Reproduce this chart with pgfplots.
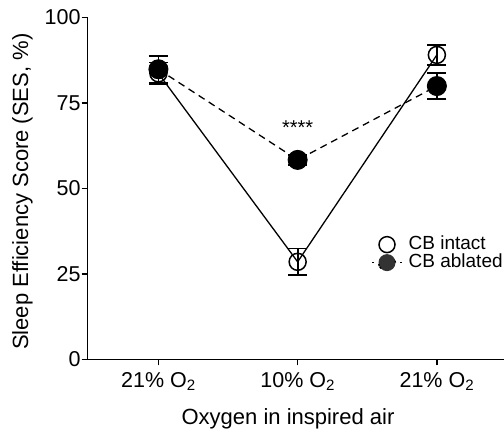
\documentclass[border=0pt]{standalone}
\usepackage{fontspec}
\setmainfont{Liberation Sans}
\usepackage{pgfplots}
\pgfplotsset{compat=1.18}

\pgfplotsset{
    intact legend/.style={
        legend image code/.code={
            \path (0pt,0pt) (30pt,0pt);
            \draw[##1, mark size=8pt] plot coordinates {(15pt,0pt)};
        }},
    ablated legend/.style={
        legend image code/.code={
            \draw[##1, mark size=8.5pt, mark options={fill=black!80},
                dash pattern=on 2pt off 26pt on 2pt off 1pt,
                mark repeat=2, mark phase=2]
                plot coordinates {(0pt,0pt) (15pt,0pt) (30pt,0pt)};
        }},
}

\begin{document}
\begin{tikzpicture}
\begin{axis}[
    width=416pt, height=342pt,
    scale only axis,
    xmin=-0.508, xmax=2.48,
    ymin=0, ymax=100,
    axis x line*=bottom, axis y line*=left,
    axis line style={-, line width=1.5pt},
    xtick={0,1,2},
    xticklabels={21\% O\textsubscript{2},10\% O\textsubscript{2},21\% O\textsubscript{2}},
    ytick={0,25,50,75,100},
    tick align=outside,
    major tick length=6pt,
    tick style={line width=1.5pt, black},
    /pgf/number format/assume math mode=true,
    xticklabel style={font=\fontsize{21.5}{24}\selectfont, anchor=base, inner sep=0pt, yshift=-22pt},
    yticklabel style={font=\fontsize{21.5}{24}\selectfont, anchor=east, inner sep=0pt, xshift=-1pt},
    xlabel={Oxygen in inspired air},
    xlabel style={font=\fontsize{22}{26}\selectfont, at={(axis description cs:0.4815,-0.192)}, anchor=base, inner sep=0pt},
    ylabel={Sleep Efficiency Score (SES, \%)},
    ylabel style={font=\fontsize{22}{26}\selectfont, at={(axis description cs:-0.1315,0.49)}, anchor=south, inner sep=0pt},
    clip=false,
    legend style={at={(axis cs:1.528,30.9)}, anchor=west, draw=none, fill=none,
        font=\fontsize{19}{20}\selectfont, inner sep=0pt,
        nodes={inner sep=0pt, text height=13.5pt, text depth=4.5pt},
        column sep=6pt, row sep=0pt},
    legend cell align=left,
]
\addplot[black, line width=1.3pt, mark=o,
    mark options={solid, line width=1.5pt, fill=none},
    mark size=8.5pt,
    intact legend,
    error bars/.cd, y dir=both, y explicit,
    error bar style={line width=1.8pt, solid},
    error mark options={rotate=90, mark size=9.5pt, line width=1.8pt},
    ] coordinates {
    (0,83.6) +- (0,3.2)
    (1,28.5) +- (0,3.9)
    (2,89.0) +- (0,3.0)
};
\addlegendentry{CB intact}
\addplot[black, line width=1.3pt, dash pattern=on 7pt off 5pt, mark=*,
    mark options={solid, fill=black, line width=1pt},
    mark size=9.5pt,
    ablated legend,
    error bars/.cd, y dir=both, y explicit,
    error bar style={line width=1.8pt, solid},
    error mark options={rotate=90, mark size=9.5pt, line width=1.8pt},
    ] coordinates {
    (0,84.8) +- (0,3.9)
    (1,58.3) +- (0,1.5)
    (2,79.9) +- (0,3.7)
};
\addlegendentry{CB ablated}
\node[font=\fontsize{20}{20}\selectfont, anchor=base] at (axis cs:1,65.6) {****};
\end{axis}
\pgfresetboundingbox
\path[use as bounding box] (-87.7pt,-75.7pt) rectangle (416.3pt,359.3pt);
\end{tikzpicture}
\end{document}
